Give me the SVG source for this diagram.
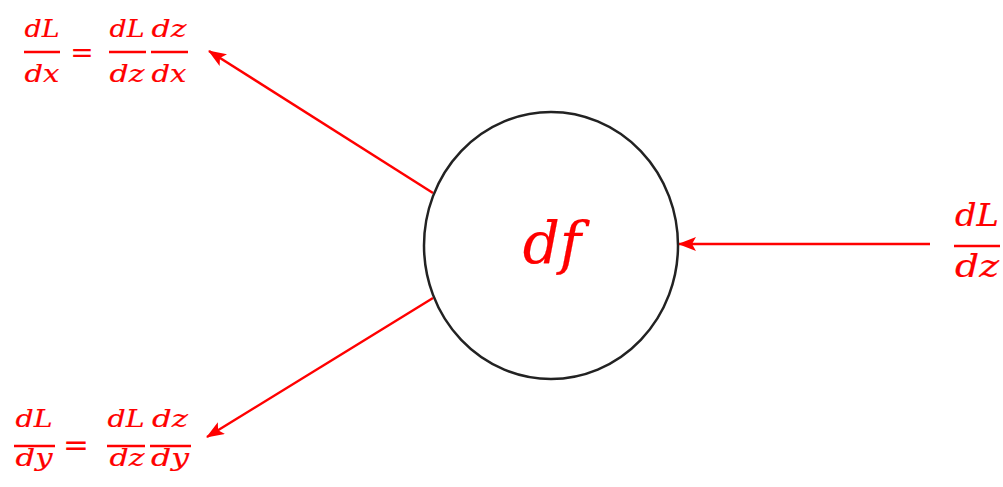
<svg xmlns="http://www.w3.org/2000/svg" width="1003" height="487" viewBox="0 0 1003 487">
<style>
.m{font-family:"DejaVu Serif","Liberation Serif",serif;font-style:italic;fill:#ff0000;stroke:#ff0000;stroke-width:0.2;text-anchor:middle}
.s{font-size:25px}
.b{font-size:31px}
.bar{stroke:#ff0000;stroke-width:2.5}
.eq{font-family:"DejaVu Sans","Liberation Sans",sans-serif;fill:#ff0000;font-size:28px;text-anchor:middle}
.c{stroke:#ff0000;stroke-width:2.5;fill:none}
</style>
<defs>
<marker id="ah" markerWidth="18" markerHeight="14" refX="17" refY="7" orient="auto" markerUnits="userSpaceOnUse" viewBox="0 0 18 14">
<path d="M0,0 L18,7 L0,14 L4,7 Z" fill="#ff0000"/>
</marker>
</defs>
<rect width="1003" height="487" fill="#ffffff"/>
<g id="connectors">
<line class="c" x1="433" y1="193" x2="209" y2="51" marker-end="url(#ah)"/>
<line class="c" x1="433" y1="298" x2="207" y2="437" marker-end="url(#ah)"/>
<line class="c" x1="930" y1="244" x2="679" y2="244" marker-end="url(#ah)"/>
</g>
<g id="node-df">
<ellipse cx="551" cy="245.5" rx="127" ry="133.5" fill="#ffffff" stroke="#222222" stroke-width="2.5"/>
<text class="m" x="552" y="263" font-size="58">df</text>
</g>
<g id="label-dx">
<text class="m s" x="42" y="37" textLength="35" lengthAdjust="spacingAndGlyphs">dL</text>
<line class="bar" x1="24" y1="52" x2="60" y2="52"/>
<text class="m s" x="42" y="82" textLength="35" lengthAdjust="spacingAndGlyphs">dx</text>
<text class="eq" x="82" y="62">=</text>
<text class="m s" x="127" y="37" textLength="35" lengthAdjust="spacingAndGlyphs">dL</text>
<line class="bar" x1="109" y1="52" x2="146" y2="52"/>
<text class="m s" x="127" y="82" textLength="35" lengthAdjust="spacingAndGlyphs">dz</text>
<text class="m s" x="169" y="37" textLength="35" lengthAdjust="spacingAndGlyphs">dz</text>
<line class="bar" x1="151" y1="52" x2="188" y2="52"/>
<text class="m s" x="169" y="82" textLength="35" lengthAdjust="spacingAndGlyphs">dx</text>
</g>
<g id="label-dy">
<text class="m s" x="34" y="427" textLength="37" lengthAdjust="spacingAndGlyphs">dL</text>
<line class="bar" x1="14" y1="446" x2="55" y2="446"/>
<text class="m s" x="34" y="466" textLength="37" lengthAdjust="spacingAndGlyphs">dy</text>
<text class="eq" x="76" y="455" style="font-size:31px">=</text>
<text class="m s" x="126" y="427" textLength="37" lengthAdjust="spacingAndGlyphs">dL</text>
<line class="bar" x1="107" y1="446" x2="145" y2="446"/>
<text class="m s" x="170" y="427" textLength="36" lengthAdjust="spacingAndGlyphs">dz</text>
<line class="bar" x1="150" y1="446" x2="191" y2="446"/>
<text class="m s" x="127" y="466" textLength="35" lengthAdjust="spacingAndGlyphs">dz</text>
<text class="m s" x="170" y="466" textLength="38" lengthAdjust="spacingAndGlyphs">dy</text>
</g>
<g id="label-dz">
<text class="m b" x="977" y="226" textLength="44" lengthAdjust="spacingAndGlyphs">dL</text>
<line class="bar" x1="954" y1="246" x2="1000" y2="246"/>
<text class="m b" x="977" y="277" textLength="44" lengthAdjust="spacingAndGlyphs">dz</text>
</g>
</svg>
